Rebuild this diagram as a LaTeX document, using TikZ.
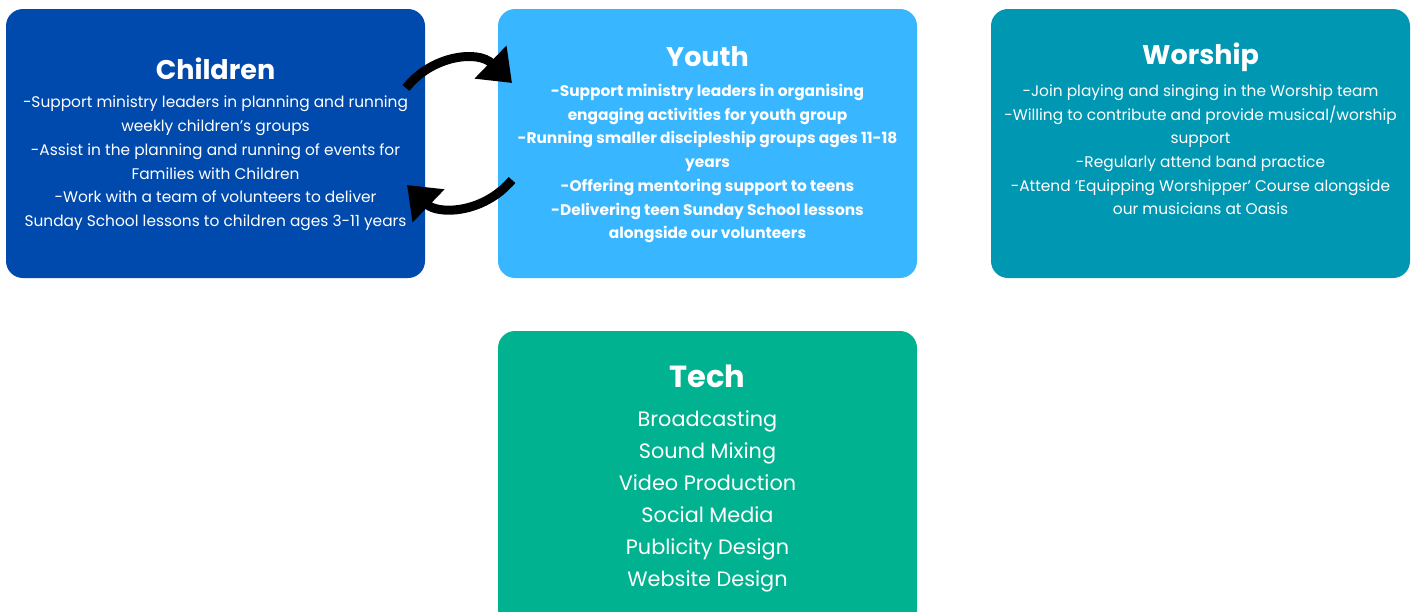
\documentclass[tikz,border=0pt]{standalone}
\usepackage{fontspec}
\setmainfont{Poppins}
\usetikzlibrary{arrows.meta}
\definecolor{cBlue}{HTML}{004AAD}
\definecolor{cSky}{HTML}{38B6FF}
\definecolor{cTeal}{HTML}{0097B2}
\definecolor{cGreen}{HTML}{00B290}
\tikzset{
  card/.style={rounded corners=17pt, inner sep=0pt},
  ttl/.style={text=white, font=\fontsize{27}{30}\selectfont\bfseries, inner sep=0pt},
  body/.style={text=white, align=center, inner sep=0pt, font=\fontsize{15.4}{23.7}\selectfont},
  bodyb/.style={text=white, align=center, inner sep=0pt, font=\fontsize{15.4}{23.7}\selectfont\bfseries},
  techbody/.style={text=white, align=center, inner sep=0pt, font=\fontsize{20.8}{32}\selectfont},
  swoosh/.style={line width=9pt, -{Triangle[length=30pt,width=44pt]}, black},
}
\begin{document}
\begin{tikzpicture}[x=1pt,y=-1pt]
\useasboundingbox (0,0) rectangle (1415,611);
\begin{scope}
\clip (0,0) rectangle (1415,611);
\fill[cBlue, card] (6,9) rectangle (425,278);
\fill[cSky, card] (498,9) rectangle (917,278);
\fill[cTeal, card] (991,9) rectangle (1410,278);
\fill[cGreen, card] (498,331) rectangle (917,630);
\end{scope}
\node (child) at (215.5,143) {};
\node (youth) at (707.5,143) {};
\node[ttl] (ct) at (215.5,69) {Children};
\node[body, anchor=north] (cb) at (215.5,96) {-Support ministry leaders in planning and running\\weekly children's groups\\-Assist in the planning and running of events for\\Families with Children\\-Work with a team of volunteers to deliver\\Sunday School lessons to children ages 3-11 years};
\node[ttl] (yt) at (707.5,57) {Youth};
\node[bodyb, anchor=north] (yb) at (707.5,84) {-Support ministry leaders in organising\\engaging activities for youth group\\-Running smaller discipleship groups ages 11-18\\years\\-Offering mentoring support to teens\\-Delivering teen Sunday School lessons\\alongside our volunteers};
\node[ttl] (wt) at (1200.5,57) {Worship};
\node[body, anchor=north] (wb) at (1200.5,84.5) {-Join playing and singing in the Worship team\\-Willing to contribute and provide musical/worship\\support\\-Regularly attend band practice\\-Attend `Equipping Worshipper' Course alongside\\our musicians at Oasis};
\node[ttl, font=\fontsize{30.5}{33}\selectfont\bfseries] (tt) at (707.5,376) {Tech};
\node[techbody, anchor=north] (tb) at (707.5,410.5) {Broadcasting\\Sound Mixing\\Video Production\\Social Media\\Publicity Design\\Website Design};
\coordinate (a1s) at (406,88);
\coordinate (a1e) at (512,83);
\coordinate (a2s) at (512,180);
\coordinate (a2e) at (407,185);
\draw[swoosh] (a1s) .. controls (432,55) and (478,50) .. (a1e);
\draw[swoosh] (a2s) .. controls (482,215) and (437,214) .. (a2e);
\end{tikzpicture}
\end{document}
